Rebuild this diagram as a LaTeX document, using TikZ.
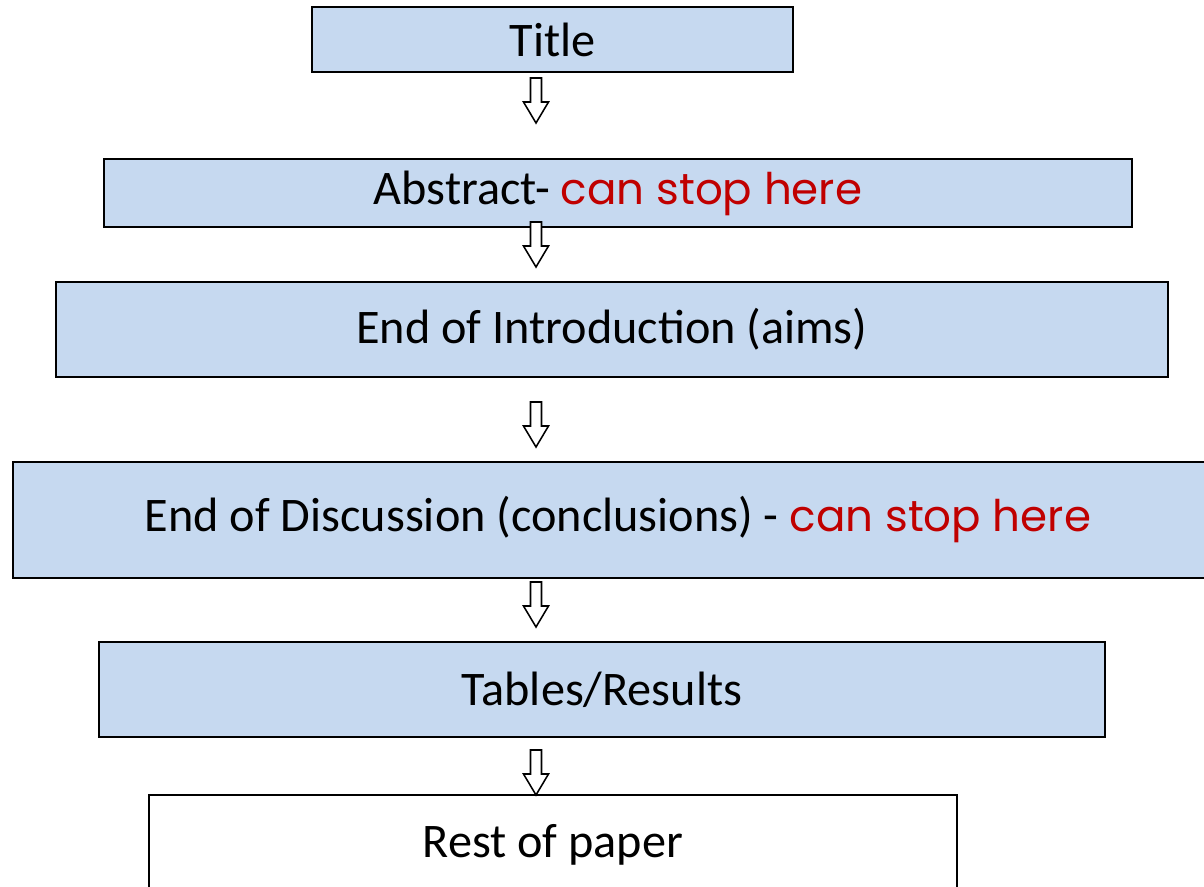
\documentclass[tikz,border=0pt]{standalone}
\usepackage{fontspec}
\usetikzlibrary{calc}
\setmainfont{Carlito}
\newfontfamily\comicfont{Poppins}
\definecolor{boxblue}{RGB}{198,217,240}
\definecolor{stopred}{RGB}{192,0,0}
\newcommand\canstop{\textcolor{stopred}{\comicfont\fontsize{31}{36}\selectfont can stop here}}
\begin{document}
\begin{tikzpicture}
    [ x=0.025cm, y=-0.025cm
    , every node/.style={font=\fontsize{34.3}{40}\selectfont}
    , part/.style={draw, line width=1.2pt, fill=boxblue, shape=rectangle, inner sep=0pt}
    , rest/.style={part, fill=white}
    , hollow/.style={draw, line width=1.1pt, fill=white, line join=miter}
    ]
    \clip (0,0) rectangle (1204,887);
    \node [part, minimum width=481*0.025cm, minimum height=65*0.025cm]
          (title) at (552.5,39.5) {Title};
    \node [part, minimum width=1028*0.025cm, minimum height=68*0.025cm]
          (abstract) at (618,193) {Abstract- \canstop};
    \node [part, minimum width=1112*0.025cm, minimum height=95*0.025cm]
          (intro) at (612,329.5) {End of Introduction (aims)};
    \node [part, minimum width=1200*0.025cm, minimum height=116*0.025cm]
          (discussion) at (613,520) {};
    \node (disctext) at (618,520) {End of Discussion (conclusions) - \canstop};
    \node [part, minimum width=1006*0.025cm, minimum height=95*0.025cm]
          (tables) at (602,689.5) {Tables/Results};
    \node [rest, minimum width=808*0.025cm, minimum height=110*0.025cm]
          (rest) at (553,850) {};
    \node (resttext) at (553,845) {Rest of paper};
    % hollow arrows between the parts
    \foreach \top/\name in {78/a1, 222/a2, 402/a3, 582/a4, 750/a5} {
      \coordinate (\name) at (536,\top);
      \draw [hollow] (\name) ++(-5.5,0) -- ++(0,24) -- ++(-7,0)
        -- ($(\name)+(0,45)$) -- ++(12.5,-21) -- ++(-7,0) -- ++(0,-24) -- cycle;
    }
\end{tikzpicture}
\end{document}
